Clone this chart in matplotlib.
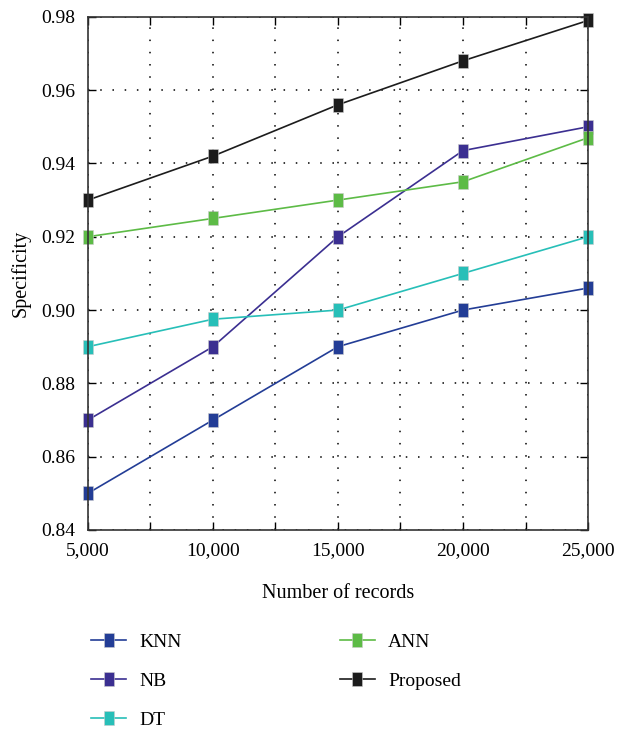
import matplotlib
matplotlib.use('Agg')
import matplotlib.pyplot as plt
from matplotlib.ticker import FuncFormatter, MultipleLocator

plt.rcParams['font.family'] = 'Liberation Serif'

records = [5000, 10000, 15000, 20000, 25000]
knn = [0.85, 0.87, 0.89, 0.90, 0.906]
nb = [0.87, 0.89, 0.92, 0.9435, 0.95]
dt = [0.89, 0.8975, 0.90, 0.91, 0.92]
ann = [0.92, 0.925, 0.93, 0.935, 0.947]
proposed = [0.93, 0.942, 0.956, 0.968, 0.979]

series = [('KNN', knn, '#233d96'), ('NB', nb, '#3b2f91'), ('DT', dt, '#27bfb8'),
          ('ANN', ann, '#5dbb46'), ('Proposed', proposed, '#1c1c1c')]

# tall rectangle marker
rect = [(-0.65, -1), (0.65, -1), (0.65, 1), (-0.65, 1), (-0.65, -1)]

fig = plt.figure(figsize=(6.19, 7.31), dpi=100)
ax = fig.add_axes([0.142, 0.275, 0.808, 0.702])

for name, vals, col in series:
    ax.plot(records, vals, color=col, linewidth=1.2, marker=rect, markersize=10,
            markeredgecolor='#cccccc', markeredgewidth=0.4, label=name, clip_on=False)

ax.set_xlim(5000, 25000)
ax.set_ylim(0.84, 0.98)
ax.xaxis.set_major_locator(MultipleLocator(2500))
ax.yaxis.set_major_locator(MultipleLocator(0.02))
ax.xaxis.set_major_formatter(FuncFormatter(lambda v, p: '{:,.0f}'.format(v) if v % 5000 == 0 else ''))
ax.yaxis.set_major_formatter(FuncFormatter(lambda v, p: '{:.2f}'.format(v)))
ax.tick_params(direction='in', top=True, right=True, labelsize=14, length=6, width=1, pad=9)
ax.grid(True, linestyle=(0, (1, 7)), color='black', linewidth=1.1)
for s in ax.spines.values():
    s.set_linewidth(1.2)
    s.set_color('#333333')

ax.set_xlabel('Number of records', fontsize=14.5, labelpad=18)
ax.set_ylabel('Specificity', fontsize=14.5, labelpad=8)

handles, labels = ax.get_legend_handles_labels()
fig.legend(handles, labels, ncol=2, loc='upper left', bbox_to_anchor=(0.119, 0.158),
           frameon=False, fontsize=14, handlelength=1.8, columnspacing=8.1,
           labelspacing=1.1, handletextpad=0.7)

fig.savefig('out.png', dpi=100)
